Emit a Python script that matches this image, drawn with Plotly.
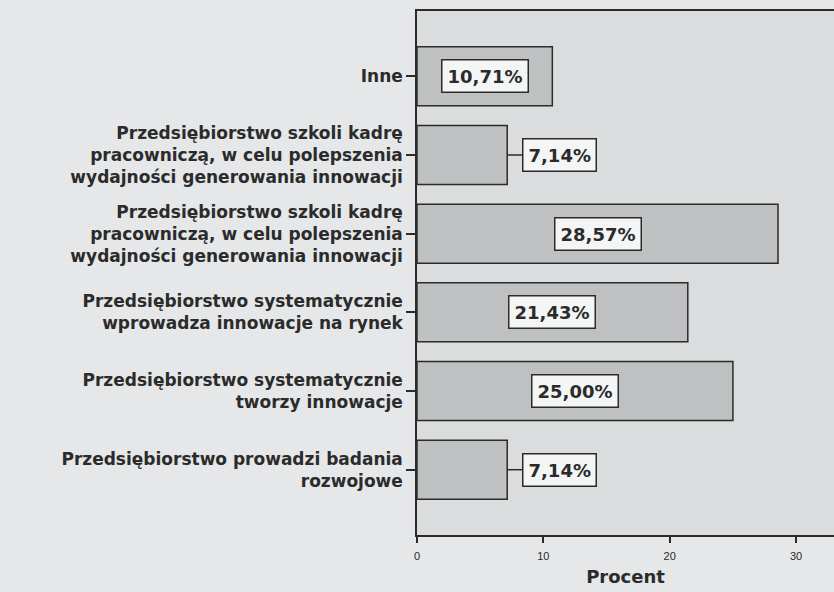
import plotly.graph_objects as go

categories = [
    "Inne",
    "Przedsiębiorstwo szkoli kadrę<br>pracowniczą, w celu polepszenia<br>wydajności generowania innowacji",
    "Przedsiębiorstwo szkoli kadrę<br>pracowniczą, w celu polepszenia<br>wydajności generowania innowacji",
    "Przedsiębiorstwo systematycznie<br>wprowadza innowacje na rynek",
    "Przedsiębiorstwo systematycznie<br>tworzy innowacje",
    "Przedsiębiorstwo prowadzi badania<br>rozwojowe",
]
values = [10.71, 7.14, 28.57, 21.43, 25.00, 7.14]
x_ticks = [0, 10, 20, 30]

positions = list(range(len(categories)))
FONT = "DejaVu Sans, sans-serif"
FONT_SMALL = "Liberation Sans, Arial, sans-serif"
DARK = "#2b2b2b"

fig = go.Figure()
fig.add_trace(go.Bar(
    y=positions, x=values, orientation="h",
    width=0.75,
    marker=dict(color="#bec0c2", line=dict(color=DARK, width=1.5)),
    hoverinfo="skip",
))

annotations = []
shapes = []
for p, v in zip(positions, values):
    label = "<b>" + f"{v:.2f}".replace(".", ",") + "%</b>"
    common = dict(y=p, xref="x", yref="y", text=label, showarrow=False,
                  font=dict(family=FONT, size=18, color=DARK),
                  bgcolor="#f4f5f5", bordercolor=DARK,
                  borderwidth=1.5, borderpad=5)
    if v < 9:
        gap = 1.2
        shapes.append(dict(type="line", xref="x", yref="y", x0=v, x1=v + gap,
                           y0=p, y1=p, line=dict(color=DARK, width=1.5)))
        annotations.append(dict(x=v + gap, xanchor="left", **common))
    else:
        annotations.append(dict(x=v / 2, xanchor="center", **common))

fig.update_layout(
    width=834, height=592,
    margin=dict(l=417, r=0, t=11, b=57),
    paper_bgcolor="#e5e7e9",
    plot_bgcolor="#dadcdd",
    showlegend=False,
    annotations=annotations,
    shapes=shapes,
    bargap=0.25,
)
fig.update_xaxes(
    range=[0, 33.0],
    tickvals=x_ticks, ticktext=[str(t) for t in x_ticks],
    ticks="outside", ticklen=6, tickwidth=1.5, tickcolor=DARK,
    tickfont=dict(family=FONT_SMALL, size=11, color=DARK),
    ticklabelstandoff=4,
    showgrid=False, zeroline=False,
    showline=True, linecolor=DARK, linewidth=1.5, mirror=True,
    title=dict(text="<b>Procent</b>", font=dict(family=FONT, size=18, color=DARK), standoff=9),
)
fig.update_yaxes(
    range=[5.83, -0.83],
    tickvals=positions, ticktext=["<b>" + c + "</b>" for c in categories],
    ticks="outside", ticklen=9, tickwidth=1.5, tickcolor=DARK,
    tickfont=dict(family=FONT, size=17, color=DARK),
    showgrid=False, zeroline=False,
    showline=True, linecolor=DARK, linewidth=1.5, mirror=False,
)

fig.write_html(
    "out.html",
    config={"displayModeBar": False},
    post_script="document.body.style.margin='0';document.body.style.overflow='hidden';",
)
